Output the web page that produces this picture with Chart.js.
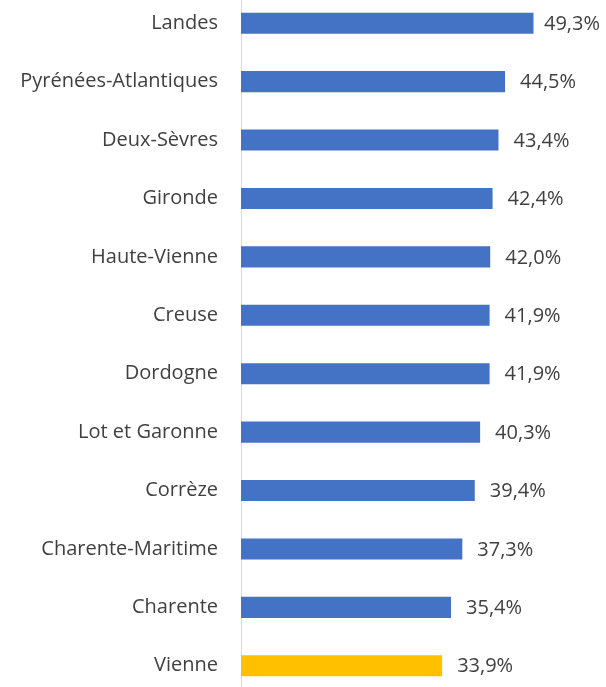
<!DOCTYPE html>
<html>
<head>
<meta charset="utf-8">
<script src="https://cdn.jsdelivr.net/npm/chart.js@4"></script>
<style>
    html, body { margin: 0; padding: 0; background: #fff; overflow: hidden; }
    #wrap { position: absolute; left: 0; top: -6px; width: 606px; height: 701px; }
</style>
</head>
<body>
<div id="wrap"><canvas id="chart"></canvas></div>
<script>
// données : part par département
const departements = [
    'Landes', 'Pyrénées-Atlantiques', 'Deux-Sèvres', 'Gironde', 'Haute-Vienne', 'Creuse',
    'Dordogne', 'Lot et Garonne', 'Corrèze', 'Charente-Maritime', 'Charente', 'Vienne'
];
const valeurs = [49.3, 44.5, 43.4, 42.4, 42.0, 41.9, 41.9, 40.3, 39.4, 37.3, 35.4, 33.9];
const departementMisEnAvant = 'Vienne';

const couleurs = departements.map(d => d === departementMisEnAvant ? '#FFC000' : '#4472C4');

const formatPct = v => v.toFixed(1).replace('.', ',') + '%';

// étiquettes de valeur au bout des barres (repoussées si elles dépassent à droite)
const etiquettesPlugin = {
    id: 'etiquettes',
    afterDatasetsDraw(chart) {
        const ctx = chart.ctx;
        const meta = chart.getDatasetMeta(0);
        ctx.save();
        ctx.font = '20px "Open Sans"';
        ctx.fillStyle = '#404040';
        ctx.textAlign = 'left';
        ctx.textBaseline = 'middle';
        meta.data.forEach((bar, i) => {
            const txt = formatPct(valeurs[i]);
            const w = ctx.measureText(txt).width;
            const x = Math.min(bar.x + 15, chart.width - 6 - w);
            ctx.fillText(txt, x, bar.y + 1);
        });
        ctx.restore();
    }
};

new Chart(document.getElementById('chart'), {
    type: 'bar',
    data: {
        labels: departements,
        datasets: [{
            data: valeurs,
            backgroundColor: couleurs,
            barPercentage: 0.36,
            categoryPercentage: 1
        }]
    },
    options: {
        indexAxis: 'y',
        responsive: true,
        maintainAspectRatio: false,
        animation: false,
        layout: { padding: { top: 0, right: 9, bottom: 0, left: 0 } },
        plugins: {
            legend: { display: false },
            tooltip: { enabled: false }
        },
        scales: {
            x: {
                display: false,
                min: 0,
                max: 60
            },
            y: {
                grid: { display: false },
                border: { display: true, color: '#d9d9d9', width: 1 },
                ticks: {
                    color: '#404040',
                    font: { family: 'Open Sans', size: 20 },
                    padding: 15
                },
                afterFit(scale) {
                    scale.width = 241;
                    // pas de marge verticale pour les libellés
                    scale.paddingTop = 0;
                    scale.paddingBottom = 0;
                }
            }
        }
    },
    plugins: [etiquettesPlugin]
});
</script>
</body>
</html>
